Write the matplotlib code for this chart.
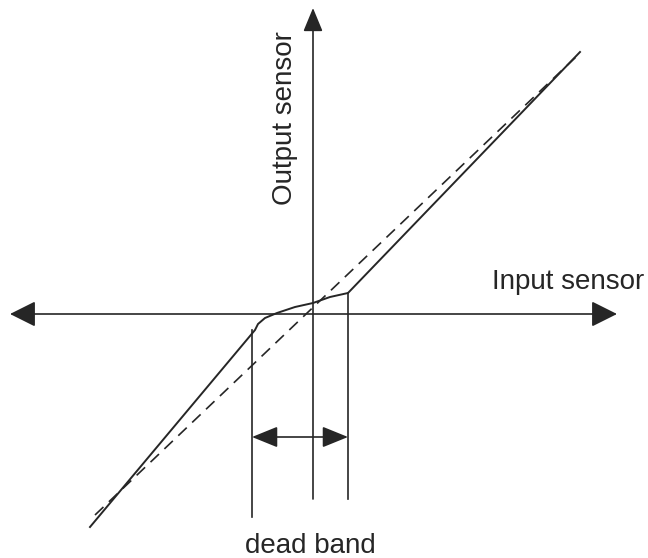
import numpy as np
import matplotlib.pyplot as plt

# sensor characteristic, origin at the crossing of the two axes
curve_x = [-223, -58, -55, -48, -36, -18, 0, 17, 35, 267]
curve_y = [-213, -16, -10, -4, 1, 7, 11, 17, 21, 262]

# ideal (linear) response
ideal_x = [-218, 265]
ideal_y = [-201, 259]

# dead band limits
band_left = -61
band_right = 35
band_left_top = -16
band_right_top = 21
band_left_bottom = -203
band_right_bottom = -185
band_arrow_y = -123

# axis extents
x_axis = [-303, 304]
y_axis = [-185, 306]

ink = '#262626'

plt.rcParams['font.family'] = ['Liberation Sans', 'DejaVu Sans']

fig = plt.figure(figsize=(6.48, 5.58), dpi=100)
ax = fig.add_axes([0, 0, 1, 1])
ax.set_xlim(-313, 335)
ax.set_ylim(-244, 314)
ax.axis('off')

# horizontal axis, arrows both ends
ax.annotate('', xy=(x_axis[1], 0), xytext=(x_axis[0], 0),
            arrowprops=dict(arrowstyle='<|-|>,head_length=1.6,head_width=0.8',
                            mutation_scale=10, lw=1.2, color=ink,
                            shrinkA=0, shrinkB=0))
# vertical axis, arrow on top
ax.annotate('', xy=(0, y_axis[1]), xytext=(0, y_axis[0]),
            arrowprops=dict(arrowstyle='-|>,head_length=1.45,head_width=0.6',
                            mutation_scale=10, lw=1.2, color=ink,
                            shrinkA=0, shrinkB=0))

# ideal line
ax.plot(ideal_x, ideal_y, color=ink, lw=1.2, dashes=(7, 4.5))
# real response
ax.plot(curve_x, curve_y, color=ink, lw=1.4, solid_joinstyle='round')

# dead band markers
ax.plot([band_left, band_left], [band_left_top, band_left_bottom], color=ink, lw=1.2)
ax.plot([band_right, band_right], [band_right_top, band_right_bottom], color=ink, lw=1.2)
ax.annotate('', xy=(band_right, band_arrow_y), xytext=(band_left, band_arrow_y),
            arrowprops=dict(arrowstyle='<|-|>,head_length=1.6,head_width=0.65',
                            mutation_scale=10, lw=1.2, color=ink,
                            shrinkA=0, shrinkB=0))

ax.text(179, 25, 'Input sensor', fontsize=20, color=ink, ha='left', va='baseline')
ax.text(-21, 109, 'Output sensor', fontsize=20, color=ink, rotation=90,
        rotation_mode='anchor', ha='left', va='baseline')
ax.text(-3, -239, 'dead band', fontsize=20, color=ink, ha='center', va='baseline')

fig.savefig('out.png', dpi=100)
